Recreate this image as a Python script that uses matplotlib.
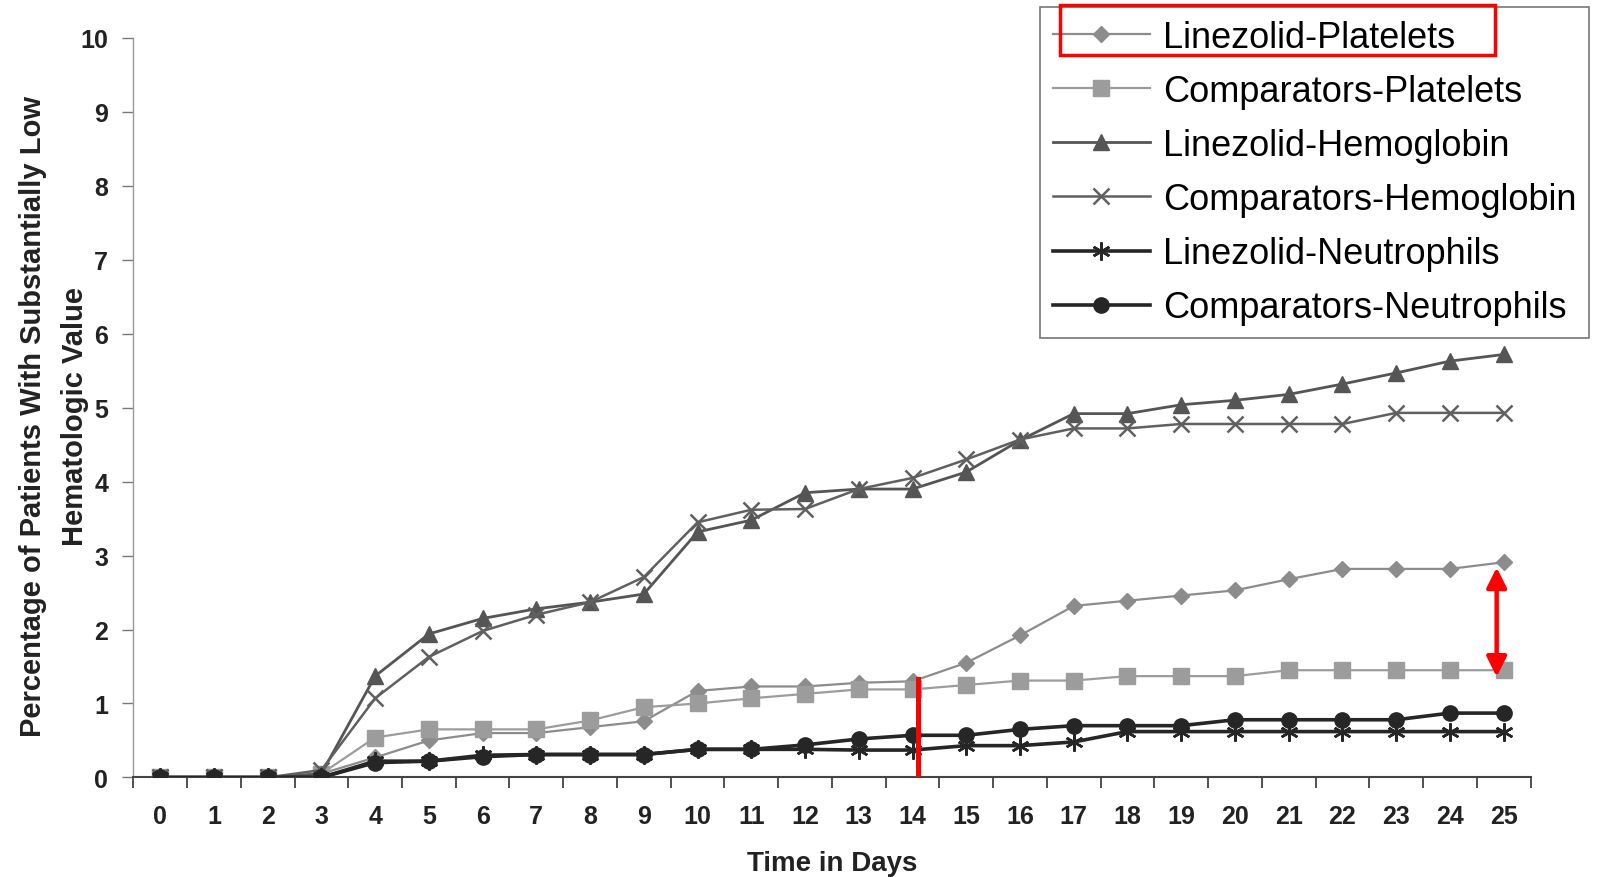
import numpy as np
import matplotlib.pyplot as plt
from matplotlib.patches import Rectangle

plt.rcParams['font.family'] = ['Liberation Sans', 'DejaVu Sans']

# data
days = list(range(26))
lin_plt = [0, 0, 0, 0.05, 0.27, 0.5, 0.6, 0.6, 0.68, 0.76, 1.17, 1.23, 1.23, 1.28, 1.3,
           1.55, 1.92, 2.32, 2.39, 2.46, 2.53, 2.68, 2.82, 2.82, 2.82, 2.91]
comp_plt = [0, 0, 0, 0.05, 0.54, 0.65, 0.65, 0.65, 0.77, 0.95, 1.0, 1.07, 1.13, 1.19, 1.19,
            1.25, 1.31, 1.31, 1.37, 1.37, 1.37, 1.45, 1.45, 1.45, 1.45, 1.45]
lin_hgb = [0, 0, 0, 0.05, 1.37, 1.94, 2.15, 2.28, 2.37, 2.48, 3.32, 3.48, 3.85, 3.9, 3.9,
           4.13, 4.56, 4.92, 4.92, 5.04, 5.1, 5.18, 5.32, 5.47, 5.63, 5.72]
comp_hgb = [0, 0, 0, 0.1, 1.07, 1.63, 1.98, 2.2, 2.37, 2.71, 3.45, 3.62, 3.63, 3.9, 4.05,
            4.3, 4.57, 4.72, 4.72, 4.78, 4.78, 4.78, 4.78, 4.93, 4.93, 4.93]
lin_neu = [0, 0, 0, 0, 0.22, 0.22, 0.3, 0.31, 0.31, 0.31, 0.38, 0.38, 0.38, 0.37, 0.37,
           0.43, 0.43, 0.48, 0.62, 0.62, 0.62, 0.62, 0.62, 0.62, 0.62, 0.62]
comp_neu = [0, 0, 0, 0, 0.2, 0.22, 0.28, 0.31, 0.31, 0.31, 0.38, 0.38, 0.44, 0.52, 0.57,
            0.57, 0.65, 0.7, 0.7, 0.7, 0.78, 0.78, 0.78, 0.78, 0.87, 0.87]

series = [
    ('Linezolid-Platelets', lin_plt, '#8c8c8c', 'D', 8, 1.6),
    ('Comparators-Platelets', comp_plt, '#9c9c9c', 's', 11, 1.6),
    ('Linezolid-Hemoglobin', lin_hgb, '#555555', '^', 11, 2.0),
    ('Comparators-Hemoglobin', comp_hgb, '#606060', 'x', 12, 1.8),
    ('Linezolid-Neutrophils', lin_neu, '#262626', (6, 2, 0), 13, 2.6),
    ('Comparators-Neutrophils', comp_neu, '#262626', 'o', 11, 2.6),
]

fig = plt.figure(figsize=(16.06, 8.78), dpi=100)
ax = fig.add_axes([0.083, 0.1134, 0.87, 0.8422])

for name, vals, col, mk, ms, lw in series:
    ax.plot(days, vals, color=col, marker=mk, markersize=ms, linewidth=lw,
            markeredgewidth=1.8 if mk in ('x', (6, 2, 0)) else 1.0,
            markeredgecolor=col, label=name, zorder=3)

ax.set_xlim(-0.5, 25.5)
ax.set_ylim(0, 10)
ax.set_yticks(range(11))
ax.set_xticks(days)
ax.set_xticks(np.arange(-0.5, 25.6, 1), minor=True)
ax.tick_params(axis='x', which='major', length=0, pad=19, labelsize=18)
ax.tick_params(axis='x', which='minor', length=8, width=1.2, color='#333333')
ax.tick_params(axis='y', length=8, width=1, color='#777777', pad=10, labelsize=18)
for lab in ax.get_xticklabels() + ax.get_yticklabels():
    lab.set_fontweight('bold')
    lab.set_color('#222222')

for s in ['top', 'right']:
    ax.spines[s].set_visible(False)
ax.spines['left'].set_color('#999999')
ax.spines['left'].set_linewidth(1)
ax.spines['bottom'].set_color('#444444')
ax.spines['bottom'].set_linewidth(1.5)

ax.set_xlabel('Time in Days', fontsize=20, fontweight='bold', labelpad=16, color='#222222')
ax.set_ylabel('Percentage of Patients With Substantially Low\nHematologic Value',
              fontsize=21, fontweight='bold', color='#222222', linespacing=1.6)
ax.yaxis.set_label_coords(-0.032, 0.49)

leg = ax.legend(loc='upper left', bbox_to_anchor=(1040 / 1606, 1 - 8 / 878),
                bbox_transform=fig.transFigure, fontsize=26, frameon=True,
                fancybox=False, edgecolor='#555555', handlelength=2.7,
                handletextpad=0.35, labelspacing=0.53, borderpad=0.35,
                borderaxespad=0)
leg.get_frame().set_linewidth(1.2)

# red highlight annotations
fig.patches.append(Rectangle((1060 / 1606, 1 - 56 / 878), 435 / 1606, 50 / 878,
                             transform=fig.transFigure, fill=False,
                             edgecolor='red', linewidth=2.5, zorder=10))
ax.plot([14.1, 14.1], [0.04, 1.33], color='red', linewidth=3.6, zorder=5)
ax.annotate('', xy=(24.87, 2.84), xytext=(24.87, 1.36),
            arrowprops=dict(arrowstyle='<|-|>', color='red', lw=3.2,
                            mutation_scale=30, shrinkA=0, shrinkB=0), zorder=5)

fig.savefig('out.png', dpi=100)
